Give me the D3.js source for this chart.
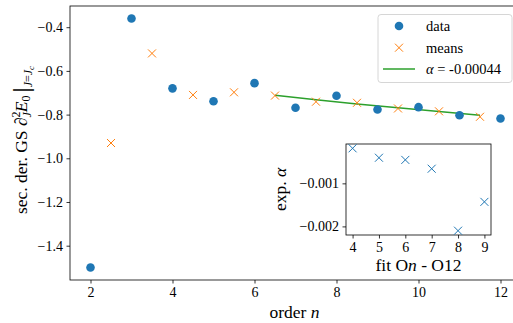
<!DOCTYPE html>
<html><head><meta charset="utf-8">
<script src="https://cdn.jsdelivr.net/npm/d3@7"></script>
<style>
body{margin:0;background:#fff;}
svg{font-family:"Liberation Serif","Times New Roman",serif;}
</style></head>
<body>
<svg id="c" width="513" height="323"></svg>
<script>
// ---- data ----
const orders = [2,3,4,5,6,7,8,9,10,11,12];
const dataValues = [-1.500,-0.360,-0.680,-0.739,-0.656,-0.769,-0.714,-0.777,-0.766,-0.803,-0.818];
const meanOrders = [2.5,3.5,4.5,5.5,6.5,7.5,8.5,9.5,10.5,11.5];
const meanValues = [-0.930,-0.520,-0.710,-0.698,-0.713,-0.741,-0.746,-0.772,-0.785,-0.810];
const fitOrders = [6.5,7.5,8.5,9.5,10.5,11.5];
const fitValues = [-0.712,-0.732,-0.751,-0.769,-0.786,-0.803];
const xTicks = [2,4,6,8,10,12];
const yTicks = [-1.4,-1.2,-1.0,-0.8,-0.6,-0.4];
const insetOrders = [4,5,6,7,8,9];
const insetAlpha = [-0.000186,-0.000405,-0.000455,-0.000660,-0.002100,-0.001430];
const insetXTicks = [4,5,6,7,8,9];
const insetYTicks = [-0.002,-0.001];
const legendLabels = ["data","means","α = -0.00044"];

const svg = d3.select("#c");
const blue="#1f77b4", orange="#ff7f0e", green="#2ca02c";
const minus = s => s.replace("-", "\u2212");
const TICKFS = 14, LABFS = 17.5, LEGFS = 14.5;

// ---- main axes ----
const L=70, R=521, T=6, B=280;
const x = d3.scaleLinear().domain([1.5,12.5]).range([L,R]);
const y = d3.scaleLinear().domain([-1.557,-0.303]).range([B,T]);

const gx = svg.append("g").attr("transform",`translate(0,${B})`)
  .call(d3.axisBottom(x).tickValues(xTicks).tickSize(3.5).tickPadding(3.5).tickFormat(d3.format("d")));
const gy = svg.append("g").attr("transform",`translate(${L},0)`)
  .call(d3.axisLeft(y).tickValues(yTicks).tickSize(3.5).tickPadding(3.5).tickFormat(d=>minus(d3.format(".1f")(d))));
[gx,gy].forEach(g=>{
  g.selectAll("text").attr("font-size",TICKFS).attr("fill","#000").style("font-family","Liberation Serif");
  g.select(".domain").remove();
  g.selectAll("line").attr("stroke","#000").attr("stroke-width",0.8);
});
svg.append("rect").attr("x",L).attr("y",T).attr("width",R-L).attr("height",B-T)
  .attr("fill","none").attr("stroke","#000").attr("stroke-width",0.8);

// fit line
svg.append("path").datum(fitOrders.map((o,i)=>[o,fitValues[i]]))
  .attr("d",d3.line().x(d=>x(d[0])).y(d=>y(d[1])))
  .attr("fill","none").attr("stroke",green).attr("stroke-width",1.5);

// data dots
svg.append("g").selectAll("circle").data(orders).join("circle")
  .attr("cx",d=>x(d)).attr("cy",(d,i)=>y(dataValues[i])).attr("r",4.3).attr("fill",blue);

// x marker helper
function xMark(g, cx, cy, s, color){
  g.append("path").attr("d",`M${cx-s},${cy-s}L${cx+s},${cy+s}M${cx-s},${cy+s}L${cx+s},${cy-s}`)
    .attr("stroke",color).attr("stroke-width",1).attr("fill","none");
}
const gm = svg.append("g");
meanOrders.forEach((o,i)=>xMark(gm,x(o),y(meanValues[i]),4,orange));

// axis labels
const xl = svg.append("text").attr("x",(L+R)/2-1).attr("y",318).attr("text-anchor","middle").attr("font-size",LABFS);
xl.append("tspan").text("order ");
xl.append("tspan").attr("font-style","italic").text("n");

const yl = svg.append("text").attr("transform",`translate(27,${(T+B)/2-3}) rotate(-90)`)
  .attr("text-anchor","middle").attr("font-size",LABFS);
yl.append("tspan").text("sec. der. GS ");
yl.append("tspan").attr("font-style","italic").text("∂");
yl.append("tspan").attr("font-size",12).attr("dy",-7).text("2");
yl.append("tspan").attr("font-size",12).attr("font-style","italic").attr("dx",-6).attr("dy",11).text("J");
yl.append("tspan").attr("font-style","italic").attr("dy",-4).text("E");
yl.append("tspan").attr("font-size",12).attr("dy",3).text("0");
yl.append("tspan").attr("dy",-1).attr("dx",3).attr("font-size",23).attr("font-weight","bold").text("|");
yl.append("tspan").attr("font-size",12).attr("font-style","italic").attr("dy",3).text("J");
yl.append("tspan").attr("font-size",12).text("=");
yl.append("tspan").attr("font-size",12).attr("font-style","italic").text("J");
yl.append("tspan").attr("font-size",9).attr("font-style","italic").attr("dy",2).text("c");

// ---- legend ----
const lg = svg.append("g");
lg.append("rect").attr("x",378).attr("y",14.5).attr("width",134).attr("height",68).attr("rx",3)
  .attr("fill","#fff").attr("fill-opacity",0.8).attr("stroke","#ccc").attr("stroke-width",0.8);
const rows=[26,47.7,69];
lg.append("circle").attr("cx",399).attr("cy",rows[0]).attr("r",4.3).attr("fill",blue);
xMark(lg,399,rows[1],4,orange);
lg.append("line").attr("x1",383).attr("x2",415).attr("y1",rows[2]).attr("y2",rows[2]).attr("stroke",green).attr("stroke-width",1.5);
legendLabels.forEach((t,i)=>{
  const tx = lg.append("text").attr("x",426).attr("y",rows[i]+5).attr("font-size",LEGFS);
  if(i<2) tx.text(t);
  else { tx.append("tspan").attr("font-style","italic").text("α"); tx.append("tspan").text(t.slice(1)); }
});

// ---- inset ----
const iL=346, iR=491, iT=144, iB=235;
const ix = d3.scaleLinear().domain([3.75,9.25]).range([iL,iR]);
const iy = d3.scaleLinear().domain([-0.0022,-0.0000856]).range([iB,iT]);
svg.append("rect").attr("x",iL).attr("y",iT).attr("width",iR-iL).attr("height",iB-iT)
  .attr("fill","#fff").attr("stroke","#000").attr("stroke-width",0.8);
const igx = svg.append("g").attr("transform",`translate(0,${iB})`)
  .call(d3.axisBottom(ix).tickValues(insetXTicks).tickSize(3.5).tickPadding(3.5).tickFormat(d3.format("d")));
const igy = svg.append("g").attr("transform",`translate(${iL},0)`)
  .call(d3.axisLeft(iy).tickValues(insetYTicks).tickSize(3.5).tickPadding(3.5).tickFormat(d=>minus(d3.format(".3f")(d))));
[igx,igy].forEach(g=>{
  g.selectAll("text").attr("font-size",TICKFS).attr("fill","#000").style("font-family","Liberation Serif");
  g.select(".domain").remove();
  g.selectAll("line").attr("stroke","#000").attr("stroke-width",0.8);
});
const gi = svg.append("g");
insetOrders.forEach((o,i)=>xMark(gi,ix(o),iy(insetAlpha[i]),4,blue));

const ixl = svg.append("text").attr("x",(iL+iR)/2).attr("y",271).attr("text-anchor","middle").attr("font-size",LABFS);
ixl.append("tspan").text("fit O");
ixl.append("tspan").attr("font-style","italic").text("n");
ixl.append("tspan").text(" - O12");
const iyl = svg.append("text").attr("transform",`translate(286,${(iT+iB)/2}) rotate(-90)`)
  .attr("text-anchor","middle").attr("font-size",LABFS);
iyl.append("tspan").text("exp. ");
iyl.append("tspan").attr("font-style","italic").text("α");
</script>
</body></html>
